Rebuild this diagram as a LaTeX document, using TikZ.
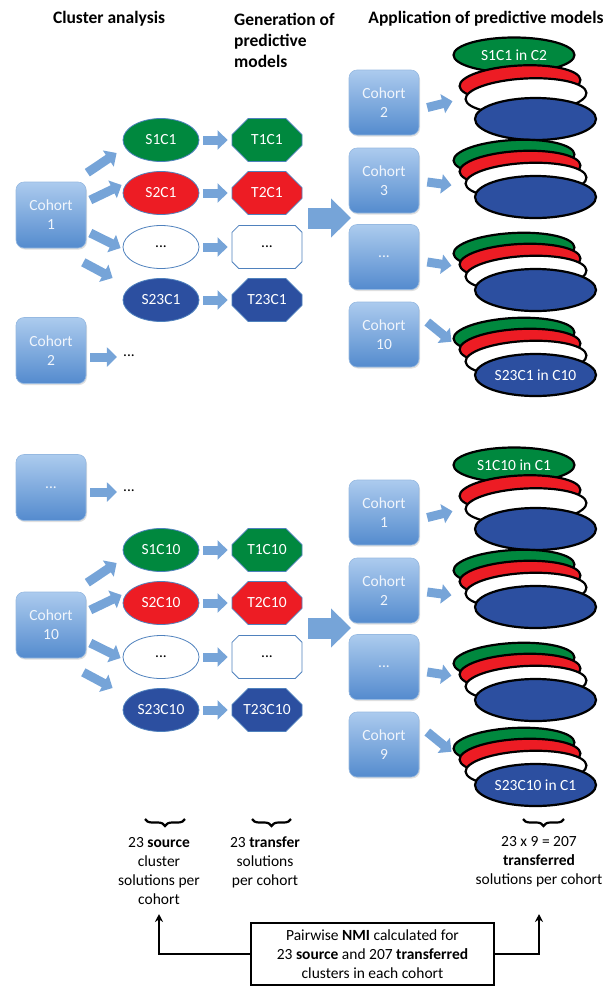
\documentclass[tikz,border=0pt]{standalone}
\usepackage{fontspec}
\setmainfont{Carlito}
\usetikzlibrary{shapes.geometric,shapes.misc,arrows.meta,decorations.pathreplacing,shadows,calc}

\definecolor{cgreen}{RGB}{0,136,62}
\definecolor{cred}{RGB}{237,28,36}
\definecolor{cblue}{RGB}{44,79,160}
\definecolor{boxtop}{RGB}{172,203,238}
\definecolor{boxbot}{RGB}{84,139,206}
\definecolor{boxedge}{RGB}{150,185,225}
\definecolor{arrowc}{RGB}{118,164,216}
\definecolor{edgeblue}{RGB}{79,129,189}
\definecolor{boxtext}{RGB}{240,245,252}

\newcommand{\mystack}[2]{%
  \node[stackel, fill=cgreen, rotate=3] (#1g) at (514,#2-39.5) {};
  \node[stackel, fill=cred, rotate=3] (#1r) at (520,#2-28.5) {};
  \node[stackel, fill=white, rotate=3] (#1w) at (526,#2-16.5) {};
}

\newcommand{\halfpart}[8]{%
  % left: main cohort and its clusterings
  \node[cohortbox] (#1c) at (51,215) {Cohort\\#2};
  \node[sell, fill=cgreen] (#1s1) at (161,140) {S1#3};
  \node[sell, fill=cred] (#1s2) at (161,193) {S2#3};
  \node[sell, fill=white, text=black] (#1s3) at (161,247) {...};
  \node[sell, fill=cblue] (#1s4) at (161,300) {S23#3};
  \node[toct, fill=cgreen] (#1t1) at (267,140) {T1#3};
  \node[toct, fill=cred] (#1t2) at (267,193) {T2#3};
  \node[toct, fill=white, text=black] (#1t3) at (267,247) {...};
  \node[toct, fill=cblue] (#1t4) at (267,300) {T23#3};
  \foreach \i in {1,...,4} {\draw[barrow] ([xshift=4pt]#1s\i.east) -- ([xshift=-4pt]#1t\i.west);}
  \draw[barrow] ([shift={(1,-9)}]#1c.north east) -- ([shift={(-6,13)}]#1s1.west);
  \draw[barrow] ([shift={(4,-15)}]#1c.east) -- ([shift={(-1,-8)}]#1s2.west);
  \draw[barrow] ([shift={(4,18)}]#1c.east) -- ([shift={(-2,1)}]#1s3.west);
  \draw[barrow] ([shift={(-3,14)}]#1c.south east) -- ([shift={(-10,-22)}]#1s4.west);
  % big arrow
  \coordinate (#1bA) at (308,218);
  \coordinate (#1bB) at (351,218);
  \draw[bigarrow] (#1bA) -- (#1bB);
  % right: target cohorts
  \node[cohortbox, minimum height=65pt] (#1r1) at (384,102.5) {Cohort\\#4};
  \node[cohortbox, minimum height=65pt] (#1r2) at (384,180.5) {Cohort\\#5};
  \node[cohortbox, minimum height=65pt] (#1r3) at (384,257) {...};
  \node[cohortbox, minimum height=65pt] (#1r4) at (384,334.5) {Cohort\\#6};
  % stack 1
  \node[stackel, fill=cgreen] (#1k1g) at (514,55) {#7};
  \node[stackel, fill=cred, rotate=3] (#1k1r) at (520,83) {};
  \node[stackel, fill=white, rotate=3] (#1k1w) at (526,96) {};
  \node[stackel, fill=cblue, minimum height=42pt] (#1k1b) at (535.5,119) {};
  % stacks 2-4
  \mystack{#1k2}{197}
  \node[stackel, fill=cblue, minimum height=42pt] (#1k2b) at (535.5,197) {};
  \mystack{#1k3}{290}
  \node[stackel, fill=cblue, minimum height=42pt] (#1k3b) at (535.5,290) {};
  \mystack{#1k4}{375}
  \node[stackel, fill=cblue, minimum height=42pt] (#1k4b) at (535.5,375) {#8};
  % arrows to stacks
  \draw[barrow] ([shift={(8,5)}]#1r1.east) -- ([shift={(-12,2)}]#1k1w.west);
  \draw[barrow] ([shift={(8,1.5)}]#1r2.east) -- ([shift={(-13,1.5)}]#1k2w.west);
  \draw[barrow] ([shift={(8,5)}]#1r3.east) -- ([shift={(-13,-11)}]#1k3w.west);
  \draw[barrow] ([shift={(8,-12.5)}]#1r4.east) -- ([shift={(-13,-20)}]#1k4w.west);
}

\begin{document}
\begin{tikzpicture}[x=1pt,y=-1pt,
  font=\fontsize{15.5}{18.9}\selectfont,
  cohortbox/.style={rounded corners=8pt, minimum width=70pt, minimum height=66pt,
    top color=boxtop, bottom color=boxbot, draw=boxedge, line width=0.6pt,
    align=center, text=boxtext, inner sep=0pt,
    drop shadow={shadow xshift=1pt, shadow yshift=-1.5pt, opacity=0.25}},
  sell/.style={ellipse, minimum width=76pt, minimum height=43pt, draw=edgeblue,
    line width=0.8pt, inner sep=0pt, text=white},
  toct/.style={chamfered rectangle, chamfered rectangle xsep=11pt,
    chamfered rectangle ysep=11pt, minimum width=70pt, minimum height=43pt,
    draw=edgeblue, line width=0.8pt, inner sep=0pt, text=white},
  stackel/.style={ellipse, minimum width=121pt, minimum height=35pt, draw=black,
    line width=2.2pt, inner sep=0pt, text=white},
  barrow/.style={arrowc, line width=9pt, -{Triangle[length=10pt,width=19pt]}},
  bigarrow/.style={arrowc, line width=21pt, -{Triangle[length=20pt,width=38pt]}},
  titletext/.style={font=\fontsize{17.5}{21.4}\selectfont\bfseries, inner sep=0pt},
  plaintext/.style={inner sep=0pt, align=center},
  link/.style={line width=2.2pt, -{Stealth[length=8pt,width=8pt]}}
]
\useasboundingbox (0,0) rectangle (608,986);

% titles
\node[titletext] (h1) at (109,19) {Cluster analysis};
\node[titletext, align=left, anchor=north west] (h2) at (234,12.5) {Generation of\\predictive\\models};
\node[titletext] (h3) at (486,19) {Application of predictive models};

% upper half
\begin{scope}
  \halfpart{u}{1}{C1}{2}{3}{10}{S1C1 in C2}{S23C1 in C10}
  \node[cohortbox] (uo) at (51,350.5) {Cohort\\2};
  \node[plaintext] (uod) at (129,356) {...};
  \draw[barrow] ([shift={(4,6.5)}]uo.east) -- ([shift={(-6,1)}]uod.west);
\end{scope}

% lower half
\begin{scope}[shift={(0,410)}]
  \halfpart{l}{10}{C10}{1}{2}{9}{S1C10 in C1}{S23C10 in C1}
  \node[cohortbox] (lo) at (51,77.5) {...};
  \node[plaintext] (lod) at (129,81) {...};
  \draw[barrow] ([shift={(4,4.5)}]lo.east) -- ([shift={(-6,1)}]lod.west);
\end{scope}

% braces and summaries
\draw[decorate, decoration={brace, mirror, amplitude=7pt}, line width=2.2pt] (145,819) -- (185,819);
\draw[decorate, decoration={brace, mirror, amplitude=7pt}, line width=2.2pt] (252,819) -- (291,819);
\draw[decorate, decoration={brace, mirror, amplitude=7pt}, line width=2.2pt] (523,819) -- (564,819);

\node[plaintext] (srct) at (159,871) {23 \textbf{source}\\cluster\\solutions per\\cohort};
\node[plaintext] (trft) at (265,862) {23 \textbf{transfer}\\solutions\\per cohort};
\node[plaintext] (trdt) at (539,862) {23 x 9 = 207\\\textbf{transferred}\\solutions per cohort};

\node[draw, line width=2.2pt, align=center, minimum width=243pt, minimum height=62pt, inner sep=0pt]
  (nmi) at (372.5,954) {Pairwise \textbf{NMI} calculated for\\23 \textbf{source} and 207 \textbf{transferred}\\clusters in each cohort};

\coordinate (srcup) at (159,914);
\coordinate (trdup) at (539,914);
\draw[link] (nmi.west) -| (srcup);
\draw[link] (nmi.east) -| (trdup);
\end{tikzpicture}
\end{document}
